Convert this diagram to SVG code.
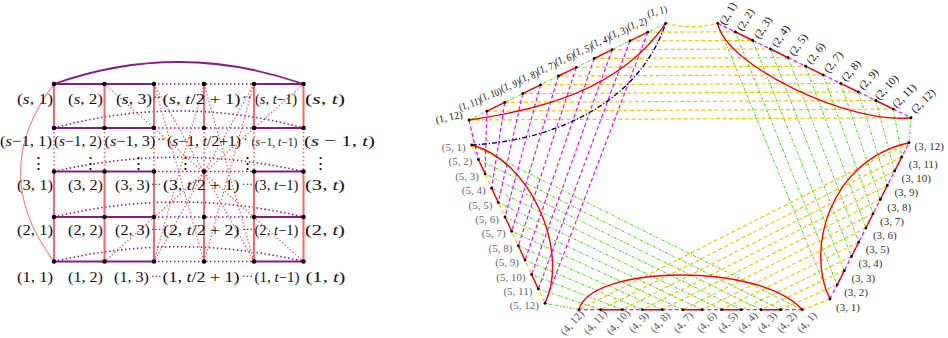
<svg xmlns="http://www.w3.org/2000/svg" width="948" height="338" viewBox="0 0 948 338">
<style>
.bg{fill:#ffffff}
.hp{stroke:#8a1a8a;stroke-width:2;fill:none}
.hd{stroke:#8a1a8a;stroke-width:1.6;stroke-dasharray:1.5 2.5;fill:none}
.arcs{stroke:#8a1a8a;stroke-width:1.8;fill:none}
.vr{stroke:#ff6464;stroke-width:2;fill:none}
.vrd{stroke:#ff6464;stroke-width:1.6;stroke-dasharray:1.5 2.5;fill:none}
.dd{stroke:#ff4a4a;stroke-width:1.1;stroke-dasharray:1.5 2;fill:none}
.pk{stroke:#ff8080;stroke-width:1.2;fill:none}
.nd{fill:#000}
.lt{font-family:"Liberation Serif",serif;font-size:15.5px;fill:#111}
.lm{font-family:"Liberation Serif",serif;font-size:15px;fill:#111}
.ls{font-family:"Liberation Serif",serif;font-size:14px;fill:#111}
.lx{font-family:"Liberation Serif",serif;font-size:14.5px;fill:#111}
.lz{font-family:"Liberation Serif",serif;font-size:11.6px;fill:#111}
.ld{font-family:"Liberation Serif",serif;font-size:13px;fill:#111}
.it{font-style:italic}
.el{font-family:"DejaVu Serif",serif;font-size:17px;fill:#111}
.red{stroke:#ff0000;stroke-width:1.4;fill:none}
.mag{stroke:#ff00ff;stroke-width:1.2;stroke-dasharray:4 2.5;fill:none}
.org{stroke:#ffbf00;stroke-width:1.2;stroke-dasharray:4 2.5;fill:none}
.grn{stroke:#33e000;stroke-width:1;stroke-dasharray:3 1.5 1 1.5;fill:none}
.nvy{stroke:#000088;stroke-width:1.4;stroke-dasharray:5 2 1.2 2;fill:none}
.rn{fill:#000}
.rl{font-family:"Liberation Serif",serif;font-size:11px}
.r1{font-family:"Liberation Serif",serif;font-size:10.5px}
.g1{fill:#111}.g2{fill:#111}.g3{fill:#333}.g4{fill:#555}.g5{fill:#666}
</style>
<rect class="bg" x="0" y="0" width="948" height="338"/>

<!-- LEFT DIAGRAM connectors -->
<g id="left-connectors">
<path class="pk" d="M54 84Q-13 172.5 54 261.5"/>
<path class="arcs" d="M54 84Q178 40 303.5 84"/>
<path class="hd" d="M54 128Q178 94 303.5 128M54 171.5Q178 143 303.5 171.5M54 217Q178 187 303.5 217M54 261.5Q178 232 303.5 261.5"/>
<path class="hp" d="M54 84H154M254 84H303.5M54 128H154M254 128H303.5M54 171.5H154M254 171.5H303.5M54 217H154M254 217H303.5M54 261.5H154M254 261.5H303.5"/>
<path class="hd" d="M154 84H254M154 128H254M154 171.5H254M154 217H254M154 261.5H254"/>
<path class="vr" d="M54 84V128M104.5 84V128M154 84V128M204 84V128M254 84V128M303.5 84V128M54 171.5V261.5M104.5 171.5V261.5M154 171.5V261.5M204 171.5V261.5M254 171.5V261.5M303.5 171.5V261.5"/>
<path class="vrd" d="M54 128V171.5M104.5 128V171.5M154 128V171.5M204 128V171.5M254 128V171.5M303.5 128V171.5"/>
<path class="dd" d="M104.5 84L303.5 261.5M303.5 84L104.5 261.5M154 84L254 261.5M254 84L154 261.5M154 84L204 261.5M254 84L204 261.5M204 84L154 261.5M204 84L254 261.5"/>
</g>

<!-- LEFT DIAGRAM nodes -->
<g id="L-s-1"><circle class="nd" cx="54" cy="84" r="2.3"/><text class="lt" x="17" y="104" textLength="36" lengthAdjust="spacingAndGlyphs">(<tspan class="it">s</tspan>, 1)</text></g>
<g id="L-s-2"><circle class="nd" cx="104.5" cy="84" r="2.3"/><text class="lt" x="68" y="104" textLength="35" lengthAdjust="spacingAndGlyphs">(<tspan class="it">s</tspan>, 2)</text></g>
<g id="L-s-3"><circle class="nd" cx="154" cy="84" r="2.3"/><text class="lt" x="116" y="104" textLength="36" lengthAdjust="spacingAndGlyphs">(<tspan class="it">s</tspan>, 3)</text></g>
<g id="L-s-t2"><circle class="nd" cx="204" cy="84" r="2.3"/><text class="lt" x="162.5" y="104" textLength="78" lengthAdjust="spacingAndGlyphs">(<tspan class="it">s</tspan>, <tspan class="it">t</tspan>/2 + 1)</text></g>
<g id="L-s-t1"><circle class="nd" cx="254" cy="84" r="2.3"/><text class="ls" x="255" y="104" textLength="42" lengthAdjust="spacingAndGlyphs">(<tspan class="it">s</tspan>, <tspan class="it">t</tspan>−1)</text></g>
<g id="L-s-t"><circle class="nd" cx="303.5" cy="84" r="2.3"/><text class="lt" x="305" y="104" textLength="40" lengthAdjust="spacingAndGlyphs">(<tspan class="it">s</tspan>, <tspan class="it">t</tspan>)</text></g>

<g id="L-s1-1"><circle class="nd" cx="54" cy="128" r="2.3"/><text class="lm" x="0" y="146" textLength="52" lengthAdjust="spacingAndGlyphs">(<tspan class="it">s</tspan>−1, 1)</text></g>
<g id="L-s1-2"><circle class="nd" cx="104.5" cy="128" r="2.3"/><text class="lm" x="54" y="146" textLength="48" lengthAdjust="spacingAndGlyphs">(<tspan class="it">s</tspan>−1, 2)</text></g>
<g id="L-s1-3"><circle class="nd" cx="154" cy="128" r="2.3"/><text class="lm" x="104.5" y="146" textLength="51" lengthAdjust="spacingAndGlyphs">(<tspan class="it">s</tspan>−1, 3)</text></g>
<g id="L-s1-t2"><circle class="nd" cx="204" cy="128" r="2.3"/><text class="lm" x="167" y="146" textLength="74" lengthAdjust="spacingAndGlyphs">(<tspan class="it">s</tspan>−1, <tspan class="it">t</tspan>/2+1)</text></g>
<g id="L-s1-t1"><circle class="nd" cx="254" cy="128" r="2.3"/><text class="lz" x="251.5" y="145.5" textLength="46" lengthAdjust="spacingAndGlyphs">(<tspan class="it">s</tspan>−1, <tspan class="it">t</tspan>−1)</text></g>
<g id="L-s1-t"><circle class="nd" cx="303.5" cy="128" r="2.3"/><text class="lt" x="304" y="146" textLength="71" lengthAdjust="spacingAndGlyphs">(<tspan class="it">s</tspan> − 1, <tspan class="it">t</tspan>)</text></g>

<g id="L-3-1"><circle class="nd" cx="54" cy="171.5" r="2.3"/><text class="lt" x="17" y="190" textLength="36" lengthAdjust="spacingAndGlyphs">(3, 1)</text></g>
<g id="L-3-2"><circle class="nd" cx="104.5" cy="171.5" r="2.3"/><text class="lt" x="68" y="190" textLength="35" lengthAdjust="spacingAndGlyphs">(3, 2)</text></g>
<g id="L-3-3"><circle class="nd" cx="154" cy="171.5" r="2.3"/><text class="lt" x="115" y="190" textLength="35" lengthAdjust="spacingAndGlyphs">(3, 3)</text></g>
<g id="L-3-t2"><circle class="nd" cx="204" cy="171.5" r="2.3"/><text class="lt" x="163" y="190" textLength="76.5" lengthAdjust="spacingAndGlyphs">(3, <tspan class="it">t</tspan>/2 + 1)</text></g>
<g id="L-3-t1"><circle class="nd" cx="254" cy="171.5" r="2.3"/><text class="lx" x="254.5" y="190" textLength="44" lengthAdjust="spacingAndGlyphs">(3, <tspan class="it">t</tspan>−1)</text></g>
<g id="L-3-t"><circle class="nd" cx="303.5" cy="171.5" r="2.3"/><text class="lt" x="305" y="190" textLength="40" lengthAdjust="spacingAndGlyphs">(3, <tspan class="it">t</tspan>)</text></g>

<g id="L-2-1"><circle class="nd" cx="54" cy="217" r="2.3"/><text class="lt" x="17" y="235" textLength="36" lengthAdjust="spacingAndGlyphs">(2, 1)</text></g>
<g id="L-2-2"><circle class="nd" cx="104.5" cy="217" r="2.3"/><text class="lt" x="68" y="235" textLength="35" lengthAdjust="spacingAndGlyphs">(2, 2)</text></g>
<g id="L-2-3"><circle class="nd" cx="154" cy="217" r="2.3"/><text class="lt" x="115" y="235" textLength="35" lengthAdjust="spacingAndGlyphs">(2, 3)</text></g>
<g id="L-2-t2"><circle class="nd" cx="204" cy="217" r="2.3"/><text class="lt" x="163" y="235" textLength="76.5" lengthAdjust="spacingAndGlyphs">(2, <tspan class="it">t</tspan>/2 + 2)</text></g>
<g id="L-2-t1"><circle class="nd" cx="254" cy="217" r="2.3"/><text class="lx" x="254.5" y="235" textLength="44" lengthAdjust="spacingAndGlyphs">(2, <tspan class="it">t</tspan>−1)</text></g>
<g id="L-2-t"><circle class="nd" cx="303.5" cy="217" r="2.3"/><text class="lt" x="305" y="235" textLength="40" lengthAdjust="spacingAndGlyphs">(2, <tspan class="it">t</tspan>)</text></g>

<g id="L-1-1"><circle class="nd" cx="54" cy="261.5" r="2.3"/><text class="lt" x="17" y="282" textLength="36" lengthAdjust="spacingAndGlyphs">(1, 1)</text></g>
<g id="L-1-2"><circle class="nd" cx="104.5" cy="261.5" r="2.3"/><text class="lt" x="68" y="282" textLength="35" lengthAdjust="spacingAndGlyphs">(1, 2)</text></g>
<g id="L-1-3"><circle class="nd" cx="154" cy="261.5" r="2.3"/><text class="lt" x="114" y="282" textLength="35" lengthAdjust="spacingAndGlyphs">(1, 3)</text></g>
<g id="L-1-t2"><circle class="nd" cx="204" cy="261.5" r="2.3"/><text class="lt" x="162.5" y="282" textLength="77" lengthAdjust="spacingAndGlyphs">(1, <tspan class="it">t</tspan>/2 + 1)</text></g>
<g id="L-1-t1"><circle class="nd" cx="254" cy="261.5" r="2.3"/><text class="lx" x="254.5" y="282" textLength="45" lengthAdjust="spacingAndGlyphs">(1, <tspan class="it">t</tspan>−1)</text></g>
<g id="L-1-t"><circle class="nd" cx="303.5" cy="261.5" r="2.3"/><text class="lt" x="305.5" y="282" textLength="40" lengthAdjust="spacingAndGlyphs">(1, <tspan class="it">t</tspan>)</text></g>

<g id="left-ellipses">
<text class="lt" x="153" y="102" textLength="8" lengthAdjust="spacingAndGlyphs">··</text>
<text class="lt" x="242" y="102" textLength="10" lengthAdjust="spacingAndGlyphs">··</text>
<text class="lt" x="157" y="144" textLength="8" lengthAdjust="spacingAndGlyphs">··</text>
<text class="lt" x="243.5" y="144" textLength="4" lengthAdjust="spacingAndGlyphs">·</text>
<text class="ld" x="151" y="187.5" textLength="10" lengthAdjust="spacingAndGlyphs">···</text>
<text class="ld" x="242" y="187.5" textLength="11" lengthAdjust="spacingAndGlyphs">···</text>
<text class="ld" x="151" y="232.5" textLength="10" lengthAdjust="spacingAndGlyphs">···</text>
<text class="ld" x="242" y="232.5" textLength="11" lengthAdjust="spacingAndGlyphs">···</text>
<text class="ld" x="151" y="279.5" textLength="10.5" lengthAdjust="spacingAndGlyphs">···</text>
<text class="ld" x="242" y="279.5" textLength="11" lengthAdjust="spacingAndGlyphs">···</text>
<text class="el" x="38" y="169" text-anchor="middle">⋮</text>
<text class="el" x="90" y="169" text-anchor="middle">⋮</text>
<text class="el" x="138" y="169" text-anchor="middle">⋮</text>
<text class="el" x="185" y="169" text-anchor="middle">⋮</text>
<text class="el" x="247" y="169" text-anchor="middle">⋮</text>
<text class="el" x="320" y="169" text-anchor="middle">⋮</text>
</g>

<!-- RIGHT DIAGRAM connectors -->
<g id="right-connectors">
<path class="org" d="M665.7 23.3Q691.7 30 717.7 23.3M647.8 32.1L735.3 31.9M629.9 40.9L752.8 40.5M612.1 49.7L770.4 49M594.2 58.5L788 57.6M576.3 67.3L805.6 66.2M558.4 76L823.1 74.8M540.5 84.8L840.7 83.4M522.7 93.6L858.3 91.9M504.8 102.4L875.8 100.5M486.9 111.2L893.4 109.1M469 120L911 117.7"/>
<path class="grn" d="M717.7 23.3L830 299M735.3 31.9L837.2 284.8M752.8 40.5L844.4 270.6M770.4 49L851.5 256.4M788 57.6L858.7 242.2M805.6 66.2L865.9 227.9M823.1 74.8L873.1 213.7M840.7 83.4L880.3 199.5M858.3 91.9L887.4 185.3M875.8 100.5L894.6 171.1M893.4 109.1L901.8 156.9M911 117.7L909 142.7"/>
<path class="org" d="M830 299L802.3 309.7M837.2 284.8L780.7 309.7M844.4 270.6L761 309.7M851.5 256.4L741.3 309.7M858.7 242.2L721.7 309.7M865.9 227.9L702.3 309.7M873.1 213.7L682.7 309.7M880.3 199.5L662.3 309.7M887.4 185.3L642.3 309.7M894.6 171.1L622.3 309.7M901.8 156.9L600.7 309.7M909 142.7L579 309.7"/>
<path class="grn" d="M802.3 309.7L471.7 145M780.7 309.7L478.4 159.4M761 309.7L485 173.8M741.3 309.7L491.7 188.2M721.7 309.7L498.3 202.6M702.3 309.7L505 217M682.7 309.7L511.7 231.3M662.3 309.7L518.3 245.7M642.3 309.7L525 260.1M622.3 309.7L531.6 274.5M600.7 309.7L538.3 288.9M579 309.7L545 303.3"/>
<path class="mag" d="M647.8 32.1L545 303.3M629.9 40.9L538.3 288.9M612.1 49.7L531.6 274.5M594.2 58.5L525 260.1M576.3 67.3L518.3 245.7M558.4 76L511.7 231.3M540.5 84.8L505 217M522.7 93.6L498.3 202.6M504.8 102.4L491.7 188.2M486.9 111.2L485 173.8M469 120Q474 142 478.4 159.4"/>
<polyline class="grn" points="665.7,23.3 647.8,32.1 629.9,40.9 612.1,49.7 594.2,58.5 576.3,67.3 558.4,76 540.5,84.8 522.7,93.6 504.8,102.4 486.9,111.2 469,120"/>
<polyline class="mag" points="717.7,23.3 735.3,31.9 752.8,40.5 770.4,49 788,57.6 805.6,66.2 823.1,74.8 840.7,83.4 858.3,91.9 875.8,100.5 893.4,109.1 911,117.7"/>
<polyline class="mag" points="830,299 837.2,284.8 844.4,270.6 851.5,256.4 858.7,242.2 865.9,227.9 873.1,213.7 880.3,199.5 887.4,185.3 894.6,171.1 901.8,156.9 909,142.7"/>
<polyline class="mag" points="802.3,309.7 780.7,309.7 761,309.7 741.3,309.7 721.7,309.7 702.3,309.7 682.7,309.7 662.3,309.7 642.3,309.7 622.3,309.7 600.7,309.7 579,309.7"/>
<polyline class="org" points="471.7,145 478.4,159.4 485,173.8 491.7,188.2 498.3,202.6 505,217 511.7,231.3 518.3,245.7 525,260.1 531.6,274.5 538.3,288.9 545,303.3"/>
<path class="red" d="M647.8 32.1L629.9 40.9M612.1 49.7L594.2 58.5M576.3 67.3L558.4 76M540.5 84.8L522.7 93.6M504.8 102.4L486.9 111.2"/>
<path class="red" d="M735.3 31.9L752.8 40.5M770.4 49L788 57.6M805.6 66.2L823.1 74.8M840.7 83.4L858.3 91.9M875.8 100.5L893.4 109.1"/>
<path class="red" d="M837.2 284.8L844.4 270.6M851.5 256.4L858.7 242.2M865.9 227.9L873.1 213.7M880.3 199.5L887.4 185.3M894.6 171.1L901.8 156.9"/>
<path class="red" d="M780.7 309.7L761 309.7M741.3 309.7L721.7 309.7M702.3 309.7L682.7 309.7M662.3 309.7L642.3 309.7M622.3 309.7L600.7 309.7"/>
<path class="red" d="M478.4 159.4L485 173.8M491.7 188.2L498.3 202.6M505 217L511.7 231.3M518.3 245.7L525 260.1M531.6 274.5L538.3 288.9"/>
<path class="red" d="M469 120C540 110 620 90 665.7 23.3"/>
<path class="red" d="M717.7 23.3C725 65 850 125 911 117.7"/>
<path class="red" d="M830 299C805 250 830 160 909 142.7"/>
<path class="red" d="M579 309.7C590 265 760 262 802.3 309.7"/>
<path class="red" d="M471.7 145C530 160 570 250 545 303.3"/>
<path class="nvy" d="M471.7 145C560 140 640 100 665.7 23.3"/>
</g>

<!-- RIGHT DIAGRAM nodes: group 1 -->
<g id="R-1-1"><circle class="rn" cx="665.7" cy="23.3" r="1.4"/><text class="r1 g1" x="657" y="11" dy="0.35em" text-anchor="middle" textLength="20" lengthAdjust="spacingAndGlyphs" transform="rotate(-15 657 11)">(1, 1)</text></g>
<g id="R-1-2"><circle class="rn" cx="647.8" cy="32.1" r="1.4"/><text class="r1 g1" x="637" y="23.5" dy="0.35em" text-anchor="middle" textLength="20" lengthAdjust="spacingAndGlyphs" transform="rotate(-18 637 23.5)">(1, 2)</text></g>
<g id="R-1-3"><circle class="rn" cx="629.9" cy="40.9" r="1.4"/><text class="r1 g1" x="618.5" y="32.3" dy="0.35em" text-anchor="middle" textLength="20" lengthAdjust="spacingAndGlyphs" transform="rotate(-18 618.5 32.3)">(1, 3)</text></g>
<g id="R-1-4"><circle class="rn" cx="612.1" cy="49.7" r="1.4"/><text class="r1 g1" x="600.5" y="41.1" dy="0.35em" text-anchor="middle" textLength="20" lengthAdjust="spacingAndGlyphs" transform="rotate(-18 600.5 41.1)">(1, 4)</text></g>
<g id="R-1-5"><circle class="rn" cx="594.2" cy="58.5" r="1.4"/><text class="r1 g1" x="582.5" y="49.9" dy="0.35em" text-anchor="middle" textLength="20" lengthAdjust="spacingAndGlyphs" transform="rotate(-18 582.5 49.9)">(1, 5)</text></g>
<g id="R-1-6"><circle class="rn" cx="576.3" cy="67.3" r="1.4"/><text class="r1 g1" x="564.5" y="58.7" dy="0.35em" text-anchor="middle" textLength="20" lengthAdjust="spacingAndGlyphs" transform="rotate(-18 564.5 58.7)">(1, 6)</text></g>
<g id="R-1-7"><circle class="rn" cx="558.4" cy="76" r="1.4"/><text class="r1 g1" x="546.5" y="67.5" dy="0.35em" text-anchor="middle" textLength="20" lengthAdjust="spacingAndGlyphs" transform="rotate(-18 546.5 67.5)">(1, 7)</text></g>
<g id="R-1-8"><circle class="rn" cx="540.5" cy="84.8" r="1.4"/><text class="r1 g1" x="528.5" y="76.3" dy="0.35em" text-anchor="middle" textLength="20" lengthAdjust="spacingAndGlyphs" transform="rotate(-18 528.5 76.3)">(1, 8)</text></g>
<g id="R-1-9"><circle class="rn" cx="522.7" cy="93.6" r="1.4"/><text class="r1 g1" x="510.5" y="85.1" dy="0.35em" text-anchor="middle" textLength="20" lengthAdjust="spacingAndGlyphs" transform="rotate(-18 510.5 85.1)">(1, 9)</text></g>
<g id="R-1-10"><circle class="rn" cx="504.8" cy="102.4" r="1.4"/><text class="r1 g1" x="490.5" y="94.3" dy="0.35em" text-anchor="middle" textLength="23" lengthAdjust="spacingAndGlyphs" transform="rotate(-18 490.5 94.3)">(1, 10)</text></g>
<g id="R-1-11"><circle class="rn" cx="486.9" cy="111.2" r="1.4"/><text class="r1 g1" x="470" y="103.8" dy="0.35em" text-anchor="middle" textLength="23" lengthAdjust="spacingAndGlyphs" transform="rotate(-18 470 103.8)">(1, 11)</text></g>
<g id="R-1-12"><circle class="rn" cx="469" cy="120" r="1.4"/><text class="r1 g1" x="449" y="117" dy="0.35em" text-anchor="middle" textLength="27" lengthAdjust="spacingAndGlyphs" transform="rotate(-12 449 117)">(1, 12)</text></g>

<!-- group 2 -->
<g id="R-2-1"><circle class="rn" cx="717.7" cy="23.3" r="1.4"/><text class="rl g2" x="727.7" y="13.5" dy="0.35em" text-anchor="middle" transform="rotate(-60 727.7 13.5)">(2, 1)</text></g>
<g id="R-2-2"><circle class="rn" cx="735.3" cy="31.9" r="1.4"/><text class="rl g2" x="745.3" y="19.5" dy="0.35em" text-anchor="middle" transform="rotate(-58.6 745.3 19.5)">(2, 2)</text></g>
<g id="R-2-3"><circle class="rn" cx="752.8" cy="40.5" r="1.4"/><text class="rl g2" x="762.8" y="27.5" dy="0.35em" text-anchor="middle" transform="rotate(-57.3 762.8 27.5)">(2, 3)</text></g>
<g id="R-2-4"><circle class="rn" cx="770.4" cy="49" r="1.4"/><text class="rl g2" x="780.4" y="36" dy="0.35em" text-anchor="middle" transform="rotate(-55.9 780.4 36)">(2, 4)</text></g>
<g id="R-2-5"><circle class="rn" cx="788" cy="57.6" r="1.4"/><text class="rl g2" x="798" y="44.6" dy="0.35em" text-anchor="middle" transform="rotate(-54.5 798 44.6)">(2, 5)</text></g>
<g id="R-2-6"><circle class="rn" cx="805.6" cy="66.2" r="1.4"/><text class="rl g2" x="815.6" y="53.2" dy="0.35em" text-anchor="middle" transform="rotate(-53.2 815.6 53.2)">(2, 6)</text></g>
<g id="R-2-7"><circle class="rn" cx="823.1" cy="74.8" r="1.4"/><text class="rl g2" x="833.1" y="61.8" dy="0.35em" text-anchor="middle" transform="rotate(-51.8 833.1 61.8)">(2, 7)</text></g>
<g id="R-2-8"><circle class="rn" cx="840.7" cy="83.4" r="1.4"/><text class="rl g2" x="850.7" y="70.4" dy="0.35em" text-anchor="middle" transform="rotate(-50.5 850.7 70.4)">(2, 8)</text></g>
<g id="R-2-9"><circle class="rn" cx="858.3" cy="91.9" r="1.4"/><text class="rl g2" x="868.3" y="78.9" dy="0.35em" text-anchor="middle" transform="rotate(-49.1 868.3 78.9)">(2, 9)</text></g>
<g id="R-2-10"><circle class="rn" cx="875.8" cy="100.5" r="1.4"/><text class="rl g2" x="886.3" y="87" dy="0.35em" text-anchor="middle" transform="rotate(-47.7 886.3 87)">(2, 10)</text></g>
<g id="R-2-11"><circle class="rn" cx="893.4" cy="109.1" r="1.4"/><text class="rl g2" x="904" y="95.6" dy="0.35em" text-anchor="middle" transform="rotate(-46.4 904 95.6)">(2, 11)</text></g>
<g id="R-2-12"><circle class="rn" cx="911" cy="117.7" r="1.4"/><text class="rl g2" x="923" y="100.7" dy="0.35em" text-anchor="middle" transform="rotate(-45 923 100.7)">(2, 12)</text></g>

<!-- group 3 -->
<g id="R-3-1"><circle class="rn" cx="830" cy="299" r="1.4"/><text class="rl g3" x="836" y="310.5">(3, 1)</text></g>
<g id="R-3-2"><circle class="rn" cx="837.2" cy="284.8" r="1.4"/><text class="rl g3" x="844.2" y="295.8">(3, 2)</text></g>
<g id="R-3-3"><circle class="rn" cx="844.4" cy="270.6" r="1.4"/><text class="rl g3" x="851.4" y="281.6">(3, 3)</text></g>
<g id="R-3-4"><circle class="rn" cx="851.5" cy="256.4" r="1.4"/><text class="rl g3" x="858.5" y="267.4">(3, 4)</text></g>
<g id="R-3-5"><circle class="rn" cx="858.7" cy="242.2" r="1.4"/><text class="rl g3" x="865.7" y="253.2">(3, 5)</text></g>
<g id="R-3-6"><circle class="rn" cx="865.9" cy="227.9" r="1.4"/><text class="rl g3" x="872.9" y="238.9">(3, 6)</text></g>
<g id="R-3-7"><circle class="rn" cx="873.1" cy="213.7" r="1.4"/><text class="rl g3" x="880.1" y="224.7">(3, 7)</text></g>
<g id="R-3-8"><circle class="rn" cx="880.3" cy="199.5" r="1.4"/><text class="rl g3" x="887.3" y="210.5">(3, 8)</text></g>
<g id="R-3-9"><circle class="rn" cx="887.4" cy="185.3" r="1.4"/><text class="rl g3" x="894.4" y="196.3">(3, 9)</text></g>
<g id="R-3-10"><circle class="rn" cx="894.6" cy="171.1" r="1.4"/><text class="rl g3" x="901.6" y="182.1">(3, 10)</text></g>
<g id="R-3-11"><circle class="rn" cx="901.8" cy="156.9" r="1.4"/><text class="rl g3" x="908.8" y="167.9">(3, 11)</text></g>
<g id="R-3-12"><circle class="rn" cx="909" cy="142.7" r="1.4"/><text class="rl g3" x="914.5" y="149.7">(3, 12)</text></g>

<!-- group 4 -->
<g id="R-4-1"><circle class="rn" cx="802.3" cy="309.7" r="1.4"/><text class="rl g4" x="806.7" y="322" dy="0.35em" text-anchor="middle" transform="rotate(-48 806.7 322)">(4, 1)</text></g>
<g id="R-4-2"><circle class="rn" cx="780.7" cy="309.7" r="1.4"/><text class="rl g4" x="786.5" y="322" dy="0.35em" text-anchor="middle" transform="rotate(-48 786.5 322)">(4, 2)</text></g>
<g id="R-4-3"><circle class="rn" cx="761" cy="309.7" r="1.4"/><text class="rl g4" x="767" y="322" dy="0.35em" text-anchor="middle" transform="rotate(-48 767 322)">(4, 3)</text></g>
<g id="R-4-4"><circle class="rn" cx="741.3" cy="309.7" r="1.4"/><text class="rl g4" x="747.5" y="322" dy="0.35em" text-anchor="middle" transform="rotate(-48 747.5 322)">(4, 4)</text></g>
<g id="R-4-5"><circle class="rn" cx="721.7" cy="309.7" r="1.4"/><text class="rl g4" x="727.5" y="322" dy="0.35em" text-anchor="middle" transform="rotate(-48 727.5 322)">(4, 5)</text></g>
<g id="R-4-6"><circle class="rn" cx="702.3" cy="309.7" r="1.4"/><text class="rl g4" x="706.5" y="322" dy="0.35em" text-anchor="middle" transform="rotate(-48 706.5 322)">(4, 6)</text></g>
<g id="R-4-7"><circle class="rn" cx="682.7" cy="309.7" r="1.4"/><text class="rl g4" x="683" y="322" dy="0.35em" text-anchor="middle" transform="rotate(-48 683 322)">(4, 7)</text></g>
<g id="R-4-8"><circle class="rn" cx="662.3" cy="309.7" r="1.4"/><text class="rl g4" x="660" y="322" dy="0.35em" text-anchor="middle" transform="rotate(-48 660 322)">(4, 8)</text></g>
<g id="R-4-9"><circle class="rn" cx="642.3" cy="309.7" r="1.4"/><text class="rl g4" x="638.5" y="322" dy="0.35em" text-anchor="middle" transform="rotate(-48 638.5 322)">(4, 9)</text></g>
<g id="R-4-10"><circle class="rn" cx="622.3" cy="309.7" r="1.4"/><text class="rl g4" x="618" y="322" dy="0.35em" text-anchor="middle" transform="rotate(-48 618 322)">(4, 10)</text></g>
<g id="R-4-11"><circle class="rn" cx="600.7" cy="309.7" r="1.4"/><text class="rl g4" x="595" y="322" dy="0.35em" text-anchor="middle" transform="rotate(-48 595 322)">(4, 11)</text></g>
<g id="R-4-12"><circle class="rn" cx="579" cy="309.7" r="1.4"/><text class="rl g4" x="572" y="322.5" dy="0.35em" text-anchor="middle" transform="rotate(-48 572 322.5)">(4, 12)</text></g>

<!-- group 5 -->
<g id="R-5-1"><circle class="rn" cx="471.7" cy="145" r="1.4"/><text class="rl g5" x="465.7" y="151" text-anchor="end">(5, 1)</text></g>
<g id="R-5-2"><circle class="rn" cx="478.4" cy="159.4" r="1.4"/><text class="rl g5" x="472.4" y="165.4" text-anchor="end">(5, 2)</text></g>
<g id="R-5-3"><circle class="rn" cx="485" cy="173.8" r="1.4"/><text class="rl g5" x="479" y="179.8" text-anchor="end">(5, 3)</text></g>
<g id="R-5-4"><circle class="rn" cx="491.7" cy="188.2" r="1.4"/><text class="rl g5" x="485.7" y="194.2" text-anchor="end">(5, 4)</text></g>
<g id="R-5-5"><circle class="rn" cx="498.3" cy="202.6" r="1.4"/><text class="rl g5" x="492.3" y="208.6" text-anchor="end">(5, 5)</text></g>
<g id="R-5-6"><circle class="rn" cx="505" cy="217" r="1.4"/><text class="rl g5" x="499" y="223" text-anchor="end">(5, 6)</text></g>
<g id="R-5-7"><circle class="rn" cx="511.7" cy="231.3" r="1.4"/><text class="rl g5" x="505.7" y="237.3" text-anchor="end">(5, 7)</text></g>
<g id="R-5-8"><circle class="rn" cx="518.3" cy="245.7" r="1.4"/><text class="rl g5" x="512.3" y="251.7" text-anchor="end">(5, 8)</text></g>
<g id="R-5-9"><circle class="rn" cx="525" cy="260.1" r="1.4"/><text class="rl g5" x="519" y="266.1" text-anchor="end">(5, 9)</text></g>
<g id="R-5-10"><circle class="rn" cx="531.6" cy="274.5" r="1.4"/><text class="rl g5" x="525.6" y="280.5" text-anchor="end">(5, 10)</text></g>
<g id="R-5-11"><circle class="rn" cx="538.3" cy="288.9" r="1.4"/><text class="rl g5" x="532.3" y="294.9" text-anchor="end">(5, 11)</text></g>
<g id="R-5-12"><circle class="rn" cx="545" cy="303.3" r="1.4"/><text class="rl g5" x="539" y="309.3" text-anchor="end">(5, 12)</text></g>
</svg>
